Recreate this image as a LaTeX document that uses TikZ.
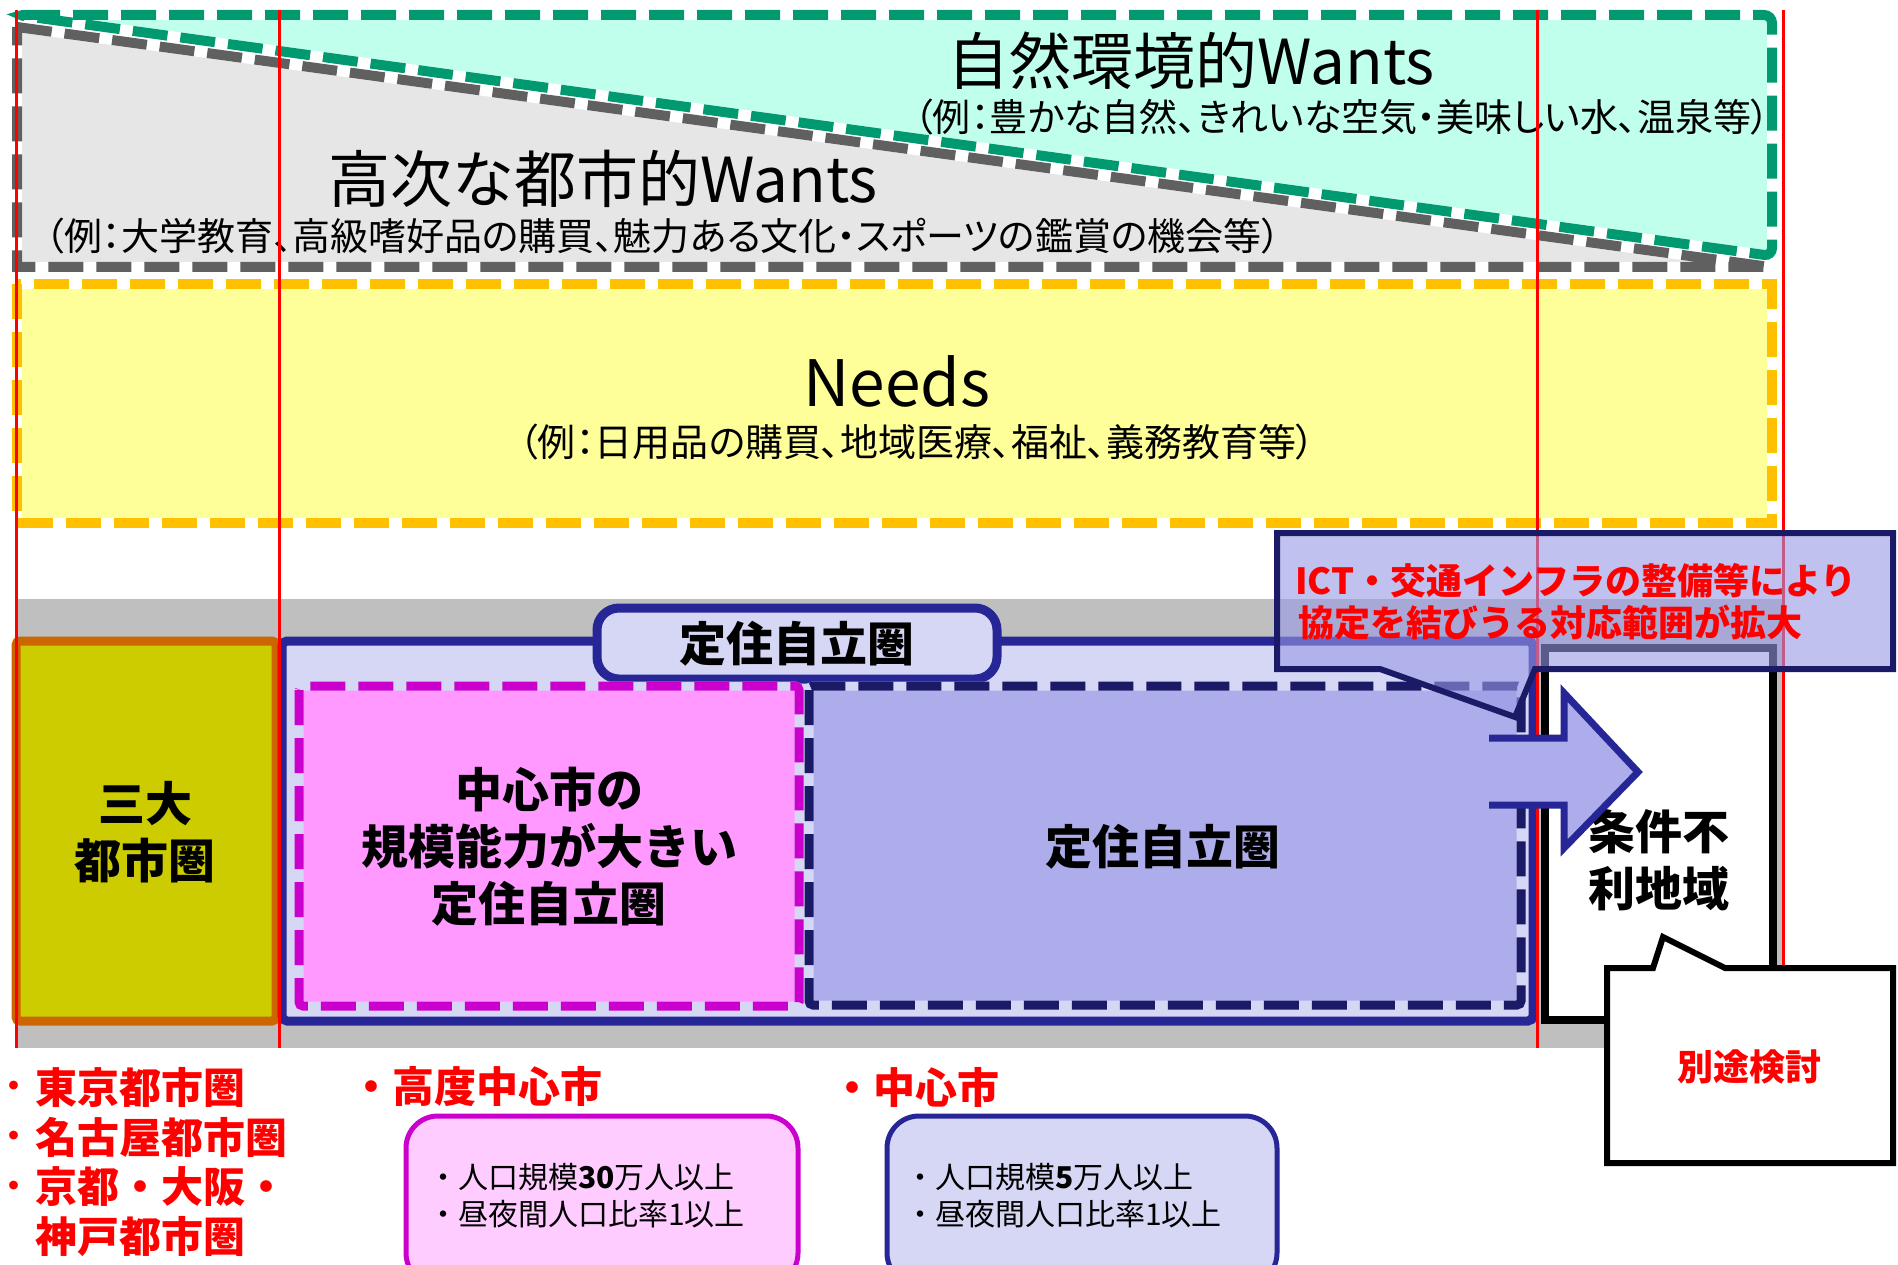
\documentclass[tikz,border=0pt]{standalone}
\usepackage{fontspec}
\setmainfont{Noto Sans CJK JP}
\newfontfamily\jpp[RawFeature=+palt]{Noto Sans CJK JP}
\definecolor{mint}{RGB}{191,255,236}
\definecolor{mintline}{RGB}{0,153,112}
\definecolor{lgray}{RGB}{230,230,230}
\definecolor{dgray}{RGB}{96,96,96}
\definecolor{lyellow}{RGB}{255,255,153}
\definecolor{orangey}{RGB}{255,192,0}
\definecolor{band}{RGB}{191,191,191}
\definecolor{olive}{RGB}{204,204,0}
\definecolor{rust}{RGB}{204,102,0}
\definecolor{royal}{RGB}{38,38,150}
\definecolor{lav}{RGB}{214,214,245}
\definecolor{midlav}{RGB}{173,173,235}
\definecolor{navy}{RGB}{26,26,102}
\definecolor{pinkf}{RGB}{255,153,255}
\definecolor{magen}{RGB}{204,0,204}
\definecolor{lpink}{RGB}{255,204,255}
\definecolor{callf}{RGB}{153,153,230}
\definecolor{redline}{RGB}{255,0,0}
\tikzset{
  dedge/.style 2 args={fill=#1,
    postaction={draw=white, fill=none, solid, line width=10pt},
    postaction={draw=#2, fill=none, line width=10pt, dash pattern=on 35pt off 13pt}},
  dbox/.style 2 args={fill=#1, rounded corners=4pt,
    postaction={draw=lav, fill=none, solid, line width=9pt},
    postaction={draw=#2, fill=none, line width=9pt, dash pattern=on 35pt off 13pt}},
  txt/.style={inner sep=0pt, outer sep=0pt},
  boldtxt/.style={txt, font=\bfseries\fontsize{47}{57}\selectfont, align=center},
  redtxt/.style={txt, text=redline, font=\bfseries\fontsize{42}{50}\selectfont, anchor=west},
  reddot/.style={txt, text=redline, font=\bfseries\fontsize{42}{50}\selectfont},
  smalltxt/.style={txt, font=\fontsize{30}{36}\selectfont, anchor=west},
  extxt/.style={txt, font=\jpp\fontsize{38}{42}\selectfont},
  bigtxt/.style={txt, font=\fontsize{62}{70}\selectfont},
  vline/.style={draw=redline, line width=3pt}
}
\begin{document}
\begin{tikzpicture}[x=1pt,y=-1pt]
\useasboundingbox (0,0) rectangle (1898,1265);
\fill[white] (0,0) rectangle (1898,1265);

% ---- top: wants ----
\path[dedge={lgray}{dgray}] (17,27) -- (1770,267) -- (17,267) -- cycle;
\path[dedge={mint}{mintline}, rounded corners=8pt] (17,15) -- (1772,15) -- (1772,256) -- cycle;
\path[dedge={lyellow}{orangey}] (17,284) rectangle (1772,523);

\node[bigtxt] (nw) at (1191,61) {自然環境的Wants};
\node[extxt] (nwex) at (1342,117) {（例：豊かな自然、きれいな空気・美味しい水、温泉等）};
\node[bigtxt] (uw) at (603,179) {高次な都市的Wants};
\node[extxt] (uwex) at (663,236) {（例：大学教育、高級嗜好品の購買、魅力ある文化・スポーツの鑑賞の機会等）};
\node[txt, font=\fontsize{64}{70}\selectfont] (nd) at (897,381) {Needs};
\node[extxt] (ndex) at (917,442) {（例：日用品の購買、地域医療、福祉、義務教育等）};

% ---- lower band ----
\fill[band] (15,599) rectangle (1785,1048);
\path[fill=olive, draw=rust, line width=9pt, rounded corners=4pt] (16,641) rectangle (276,1021);
\path[fill=lav, draw=royal, line width=9pt, rounded corners=5pt] (282,641) rectangle (1533,1021);
\path[fill=lav, draw=royal, line width=9pt, rounded corners=22pt] (597,608) rectangle (997,679);
\node[boldtxt] (tab) at (797,644) {定住自立圏};

\path[dbox={pinkf}{magen}] (299,686) rectangle (799,1006);
\path[dbox={midlav}{navy}] (809,686) rectangle (1521,1005);

\node[boldtxt] (sandai) at (145,832) {三大\\都市圏};
\node[boldtxt] (kodo) at (549,847) {中心市の\\規模能力が大きい\\定住自立圏};
\node[boldtxt] (teiju) at (1163,847) {定住自立圏};

\path[fill=white, draw=black, line width=8pt] (1545,648) rectangle (1773,1020);
\node[boldtxt] (joken) at (1659,860) {条件不\\利地域};

% red guide lines
\coordinate (r1t) at (16,10);   \coordinate (r1b) at (16,1048);
\coordinate (r2t) at (279,10);  \coordinate (r2b) at (279,1048);
\coordinate (r3t) at (1537,10); \coordinate (r3b) at (1537,1048);
\coordinate (r4t) at (1783,10); \coordinate (r4b) at (1783,1048);
\draw[vline] (r1t) -- (r1b);
\draw[vline] (r2t) -- (r2b);
\draw[vline] (r3t) -- (r3b);
\draw[vline] (r4t) -- (r4b);

% arrow
\fill[midlav] (1489,738) -- (1564,738) -- (1564,693) -- (1638,772) -- (1564,848) -- (1564,805) -- (1489,805) -- cycle;
\draw[royal, line width=7pt, line join=miter] (1489,738) -- (1564,738) -- (1564,693) -- (1638,772) -- (1564,848) -- (1564,805) -- (1489,805);

% ICT callout
\path[fill=callf, fill opacity=0.6, draw=navy, line width=6pt, line join=miter]
  (1277,533) -- (1893,533) -- (1893,669) -- (1535,669) -- (1515,717) -- (1380,669) -- (1277,669) -- cycle;
\node[txt, anchor=west, text=redline, font=\bfseries\fontsize{36}{42}\selectfont] (ict1) at (1295,581) {ICT・交通インフラの整備等により};
\node[txt, anchor=west, text=redline, font=\bfseries\fontsize{36}{42}\selectfont] (ict2) at (1298,623) {協定を結びうる対応範囲が拡大};

% betto callout
\path[fill=white, draw=black, line width=6pt, line join=miter]
  (1607,968) -- (1653,968) -- (1663,937) -- (1725,968) -- (1893,968) -- (1893,1163) -- (1607,1163) -- cycle;
\node[txt, text=redline, font=\bfseries\fontsize{36}{42}\selectfont] (betto) at (1749,1067) {別途検討};

% ---- bottom lists ----
\node[reddot] (d1) at (14,1091) {･};
\node[reddot] (d2) at (14,1141) {･};
\node[reddot] (d3) at (14,1191) {･};
\node[redtxt] (l1) at (35,1087) {東京都市圏};
\node[redtxt] (l2) at (35,1137) {名古屋都市圏};
\node[redtxt] (l3) at (35,1187) {京都・大阪・};
\node[redtxt] (l4) at (35,1237) {神戸都市圏};
\node[redtxt] (h1) at (350,1087) {・高度中心市};
\node[redtxt] (h2) at (831,1087) {・中心市};

\path[fill=lpink, draw=magen, line width=5pt, rounded corners=32pt] (406,1116) rectangle (798,1285);
\node[smalltxt] (p1) at (428,1177) {・人口規模{\bfseries 30}万人以上};
\node[smalltxt] (p2) at (428,1214) {・昼夜間人口比率1以上};
\path[fill=lav, draw=royal, line width=5pt, rounded corners=32pt] (887,1116) rectangle (1277,1285);
\node[smalltxt] (b1) at (905,1177) {・人口規模{\bfseries 5}万人以上};
\node[smalltxt] (b2) at (905,1214) {・昼夜間人口比率1以上};
\end{tikzpicture}
\end{document}
